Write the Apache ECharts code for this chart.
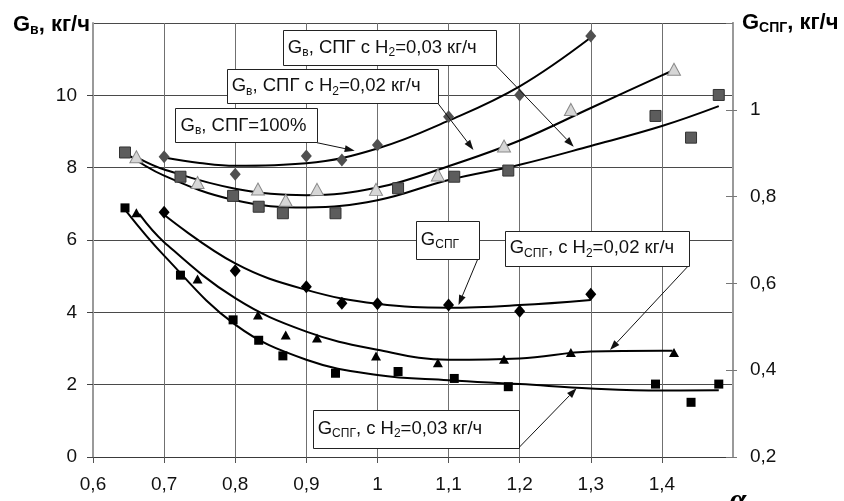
<!DOCTYPE html>
<html>
<head>
<meta charset="utf-8">
<script src="https://cdn.jsdelivr.net/npm/echarts@6/dist/echarts.min.js"></script>
<style>
  html, body { margin: 0; padding: 0; background: #fff; }
  #chart { width: 844px; height: 501px; }
</style>
</head>
<body>
<div id="chart"></div>
<script>
// Excess air ratio (α) for each test series
const alphaDiamond = [0.70, 0.80, 0.90, 0.95, 1.00, 1.10, 1.20, 1.30];
const alphaTriangle = [0.661, 0.747, 0.832, 0.871, 0.915, 0.998, 1.085, 1.178, 1.272, 1.417];
const alphaSquare = [0.645, 0.723, 0.797, 0.833, 0.867, 0.941, 1.029, 1.108, 1.184, 1.391, 1.441, 1.480];

// Air flow G_в, kg/h (left axis)
const airCng = [8.30, 7.82, 8.32, 8.21, 8.63, 9.41, 10.01, 11.64];
const airH2_02 = [8.30, 7.59, 7.41, 7.10, 7.40, 7.40, 7.80, 8.60, 9.61, 10.72];
const airH2_03 = [8.42, 7.75, 7.22, 6.92, 6.74, 6.74, 7.43, 7.75, 7.92, 9.43, 8.83, 10.01];

// Gas flow G_СПГ, kg/h (right axis)
const gasCng = [0.764, 0.629, 0.592, 0.554, 0.553, 0.550, 0.536, 0.575];
const gasH2_02 = [0.763, 0.610, 0.527, 0.481, 0.474, 0.433, 0.417, 0.425, 0.441, 0.441];
const gasH2_03 = [0.774, 0.619, 0.516, 0.469, 0.433, 0.393, 0.397, 0.381, 0.362, 0.368, 0.326, 0.368];

// Trend curves
const trendAlphaCng = [0.70, 0.75, 0.80, 0.90, 1.00, 1.10, 1.20, 1.30];
const trendAirCng = [8.28, 8.13, 8.05, 8.12, 8.53, 9.30, 10.25, 11.60];
const trendAlpha02 = [0.665, 0.70, 0.80, 0.90, 1.00, 1.10, 1.20, 1.30, 1.40, 1.415];
const trendAir02 = [8.25, 7.95, 7.42, 7.24, 7.45, 8.04, 8.75, 9.65, 10.55, 10.68];
const trendAlpha03 = [0.645, 0.70, 0.80, 0.90, 1.00, 1.10, 1.20, 1.30, 1.40, 1.48];
const trendAir03 = [8.42, 7.78, 7.10, 6.90, 7.10, 7.66, 8.08, 8.60, 9.15, 9.70];
const trendAlphaGasCng = [0.70, 0.80, 0.90, 1.00, 1.10, 1.20, 1.30];
const trendGasCng = [0.758, 0.646, 0.585, 0.553, 0.544, 0.550, 0.562];
const trendGas02 = [0.760, 0.695, 0.566, 0.489, 0.447, 0.424, 0.427, 0.443, 0.445, 0.445];
const trendGas03 = [0.770, 0.664, 0.505, 0.424, 0.389, 0.377, 0.368, 0.358, 0.353, 0.354];

const FONT = '"Liberation Sans", Arial, sans-serif';

function pairs(xs, ys) { return xs.map((x, i) => [x, ys[i]]); }
function fmt(v) { return String(Math.round(v * 10) / 10).replace('.', ','); }

function scatter(name, xs, ys, yAxisIndex, symbol, size, color, border) {
  return {
    name, type: 'scatter', yAxisIndex, data: pairs(xs, ys), symbol, symbolSize: size, z: 4,
    itemStyle: { color, borderColor: border || color, borderWidth: border ? 1 : 0, opacity: 1 }
  };
}
function trend(xs, ys, yAxisIndex) {
  return {
    type: 'line', yAxisIndex, data: pairs(xs, ys), smooth: 0.4, showSymbol: false, symbol: 'none', z: 3,
    lineStyle: { color: '#000', width: 2 }, silent: true
  };
}

const chart = echarts.init(document.getElementById('chart'), null, { renderer: 'canvas' });

const rightAxisBase = { type: 'value', position: 'right', min: 0.2, max: 1.2, interval: 0.2,
  splitLine: { show: false }, axisLine: { show: true, lineStyle: { color: '#9a9a9a', width: 2 } } };

chart.setOption({
  animation: false,
  grid: { left: 93, right: 111, top: 23, bottom: 44, outerBoundsMode: 'none' },
  xAxis: {
    type: 'value', min: 0.6, max: 1.5, interval: 0.1,
    axisLine: { lineStyle: { color: '#3a3a3a', width: 1 } },
    axisTick: { show: true, length: 6, lineStyle: { color: '#555' } },
    axisLabel: { margin: 18, fontSize: 19, color: '#111', fontFamily: FONT, formatter: fmt, showMaxLabel: false },
    splitLine: { show: true, lineStyle: { color: '#707070', width: 1 } }
  },
  yAxis: [
    {
      type: 'value', min: 0, max: 12, interval: 2, position: 'left',
      axisLine: { show: true, lineStyle: { color: '#9a9a9a', width: 2 } },
      axisTick: { show: true, length: 6, lineStyle: { color: '#444' } },
      axisLabel: { margin: 16, fontSize: 19, color: '#111', fontFamily: FONT, showMaxLabel: false },
      splitLine: { show: true, lineStyle: { color: '#4a4a4a', width: 1 } }
    },
    Object.assign({}, rightAxisBase, {
      axisTick: { show: true, length: 4, lineStyle: { color: '#777' } },
      axisLabel: { margin: 17, fontSize: 19, color: '#111', fontFamily: FONT, formatter: fmt, showMaxLabel: false }
    }),
    Object.assign({}, rightAxisBase, {
      axisTick: { show: true, inside: true, length: 7, lineStyle: { color: '#777' } },
      axisLabel: { show: false }
    })
  ],
  series: [
    trend(trendAlphaCng, trendAirCng, 0),
    trend(trendAlpha02, trendAir02, 0),
    trend(trendAlpha03, trendAir03, 0),
    trend(trendAlphaGasCng, trendGasCng, 1),
    trend(trendAlpha02, trendGas02, 1),
    trend(trendAlpha03, trendGas03, 1),
    scatter('G_в, СПГ=100%', alphaDiamond, airCng, 0, 'diamond', [11, 13], '#505050'),
    scatter('G_в, СПГ с H2=0,02 кг/ч', alphaTriangle, airH2_02, 0, 'triangle', [13, 12], '#d6d6d6', '#8a8a8a'),
    scatter('G_в, СПГ с H2=0,03 кг/ч', alphaSquare, airH2_03, 0, 'rect', [11, 11], '#5c5c5c', '#333'),
    scatter('G_СПГ', alphaDiamond, gasCng, 1, 'diamond', [11, 13], '#000'),
    scatter('G_СПГ, с H2=0,02 кг/ч', alphaTriangle, gasH2_02, 1, 'triangle', [10, 9], '#000'),
    scatter('G_СПГ, с H2=0,03 кг/ч', alphaSquare, gasH2_03, 1, 'rect', [9, 9], '#000')
  ]
});

// Callout boxes with leader arrows, placed in left-axis data coordinates
const richStyles = {
  m: { font: '18.5px "Liberation Sans", Arial, sans-serif', fill: '#111' },
  s: { font: '12px "Liberation Sans", Arial, sans-serif', fill: '#111', padding: [10, 0, 0, 0] }
};
const callouts = [
  { text: '{m|G}{s|в}{m|, СПГ с H}{s|2}{m|=0,03 кг/ч}', box: [0.867, 11.81, 1.166, 10.84], from: [1.166, 10.84], to: [1.276, 8.58] },
  { text: '{m|G}{s|в}{m|, СПГ с H}{s|2}{m|=0,02 кг/ч}', box: [0.788, 10.72, 1.085, 9.78], from: [1.085, 9.78], to: [1.135, 8.49] },
  { text: '{m|G}{s|в}{m|, СПГ=100%}', box: [0.716, 9.64, 0.915, 8.69], from: [0.915, 8.69], to: [0.968, 8.47] },
  { text: '{m|G}{s|СПГ}', box: [1.054, 6.53, 1.143, 5.47], from: [1.141, 5.47], to: [1.114, 4.20] },
  { text: '{m|G}{s|СПГ}{m|, с H}{s|2}{m|=0,02 кг/ч}', box: [1.179, 6.26, 1.438, 5.28], from: [1.437, 5.28], to: [1.327, 2.96] },
  { text: '{m|G}{s|СПГ}{m|, с H}{s|2}{m|=0,03 кг/ч}', box: [0.909, 1.30, 1.198, 0.24], from: [1.198, 0.24], to: [1.280, 1.90] }
];

function toPx(p) { return chart.convertToPixel({ xAxisIndex: 0, yAxisIndex: 0 }, p); }

const graphics = [];
callouts.forEach(c => {
  const a = toPx([c.box[0], c.box[1]]);
  const b = toPx([c.box[2], c.box[3]]);
  const f = toPx(c.from);
  const t = toPx(c.to);
  // leader line and arrowhead
  const ang = Math.atan2(t[1] - f[1], t[0] - f[0]);
  const L = 10, W = 3.5;
  const bx = t[0] - L * Math.cos(ang), by = t[1] - L * Math.sin(ang);
  graphics.push({ type: 'line', z: 10, shape: { x1: f[0], y1: f[1], x2: bx, y2: by }, style: { stroke: '#111', lineWidth: 1 } });
  graphics.push({ type: 'polygon', z: 10, shape: { points: [
      [t[0], t[1]],
      [bx + W * Math.sin(ang), by - W * Math.cos(ang)],
      [bx - W * Math.sin(ang), by + W * Math.cos(ang)]
    ] }, style: { fill: '#111' } });
  graphics.push({ type: 'rect', z: 11, shape: { x: Math.round(a[0]) + 0.5, y: Math.round(a[1]) + 0.5, width: Math.round(b[0] - a[0]), height: Math.round(b[1] - a[1]) },
    style: { fill: '#fff', stroke: '#222', lineWidth: 1 } });
  graphics.push({ type: 'text', z: 12, x: a[0] + 5, y: (a[1] + b[1]) / 2,
    style: { text: c.text, rich: richStyles, align: 'left', verticalAlign: 'middle', textAlign: 'left', textVerticalAlign: 'middle' } });
});

// Axis titles
const titleRich = {
  b: { font: 'bold 22px "Liberation Sans", Arial, sans-serif', fill: '#000' },
  bs: { font: 'bold 14px "Liberation Sans", Arial, sans-serif', fill: '#000', padding: [11, 0, 0, 0] }
};
graphics.push({ type: 'text', x: 90, y: 25, z: 12,
  style: { text: '{b|G}{bs|в}{b|, кг/ч}', rich: titleRich, align: 'right', verticalAlign: 'middle', textAlign: 'right', textVerticalAlign: 'middle' } });
graphics.push({ type: 'text', x: 742, y: 23, z: 12,
  style: { text: '{b|G}{bs|СПГ}{b|, кг/ч}', rich: titleRich, align: 'left', verticalAlign: 'middle', textAlign: 'left', textVerticalAlign: 'middle' } });
graphics.push({ type: 'text', x: 738, y: 486, z: 12,
  style: { text: 'α', font: 'italic bold 30px "Liberation Serif", serif', fill: '#000', align: 'center', verticalAlign: 'top', textAlign: 'center', textVerticalAlign: 'top' } });

chart.setOption({ graphic: graphics });
</script>
</body>
</html>
